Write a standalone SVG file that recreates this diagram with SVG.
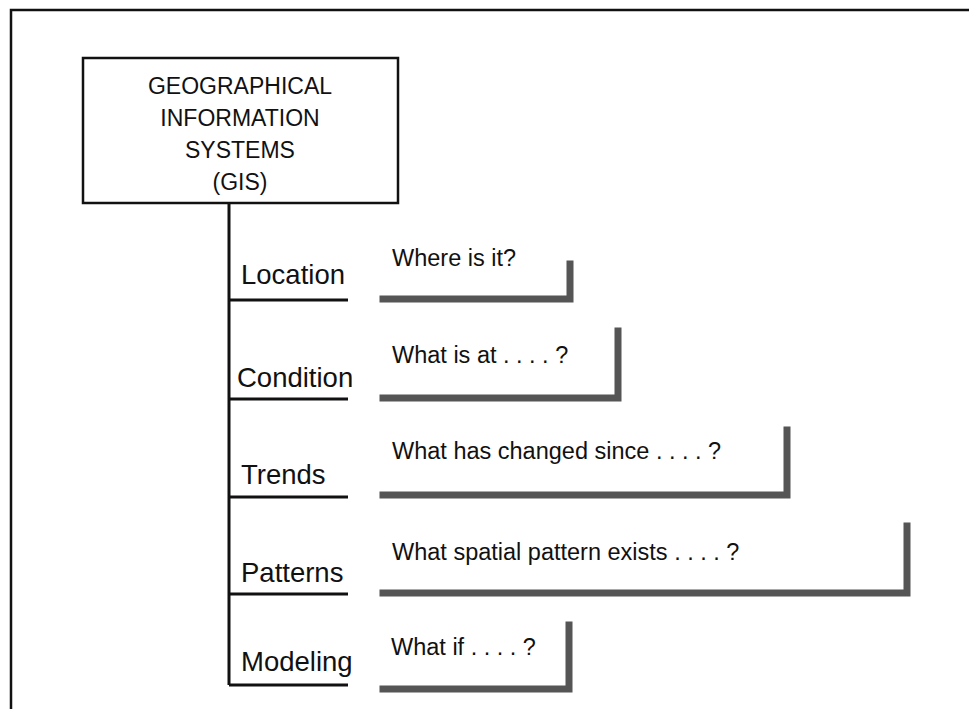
<svg xmlns="http://www.w3.org/2000/svg" width="969" height="709" viewBox="0 0 969 709">
<style>
.lbl{font-family:"Liberation Sans",Arial,sans-serif;font-size:27.5px;fill:#111}
.q{font-family:"Liberation Sans",Arial,sans-serif;font-size:23.5px;fill:#111}
.dots{letter-spacing:6.5px}
.title{font-family:"Liberation Sans",Arial,sans-serif;font-size:23px;fill:#111;text-anchor:middle}
.tree{stroke:#111;stroke-width:3;fill:none}
.br{stroke:#555;stroke-width:7;fill:none;stroke-linecap:square}
</style>
<rect width="969" height="709" fill="#fff"/>
<path d="M11 709 V10 H969" stroke="#111" stroke-width="2.5" fill="none"/>
<g id="gis">
<rect x="83" y="58" width="315" height="145" fill="#fff" stroke="#111" stroke-width="2.5"/>
<text class="title" x="240" y="94">GEOGRAPHICAL</text>
<text class="title" x="240" y="126">INFORMATION</text>
<text class="title" x="240" y="158">SYSTEMS</text>
<text class="title" x="240" y="190">(GIS)</text>
</g>
<g id="connectors">
<path class="tree" d="M229 203 V685 M229 300 H348 M229 399 H348 M229 497 H348 M229 594 H348 M229 685 H348"/>
</g>
<g id="location">
<text class="lbl" x="241" y="284">Location</text>
<text class="q" x="392" y="266">Where is it?</text>
<path class="br" d="M383 299 H570 V264"/>
</g>
<g id="condition">
<text class="lbl" x="237" y="387">Condition</text>
<text class="q" x="392" y="363">What is at <tspan class="dots">....</tspan>?</text>
<path class="br" d="M383 398 H618 V331"/>
</g>
<g id="trends">
<text class="lbl" x="241" y="484">Trends</text>
<text class="q" x="392" y="459">What has changed since <tspan class="dots">....</tspan>?</text>
<path class="br" d="M383 495 H787 V430"/>
</g>
<g id="patterns">
<text class="lbl" x="241" y="582">Patterns</text>
<text class="q" x="392" y="560">What spatial pattern exists <tspan class="dots">....</tspan>?</text>
<path class="br" d="M383 593 H907 V526"/>
</g>
<g id="modeling">
<text class="lbl" x="241" y="671">Modeling</text>
<text class="q" x="391" y="655">What if <tspan class="dots">....</tspan>?</text>
<path class="br" d="M383 689 H569 V625"/>
</g>
</svg>
